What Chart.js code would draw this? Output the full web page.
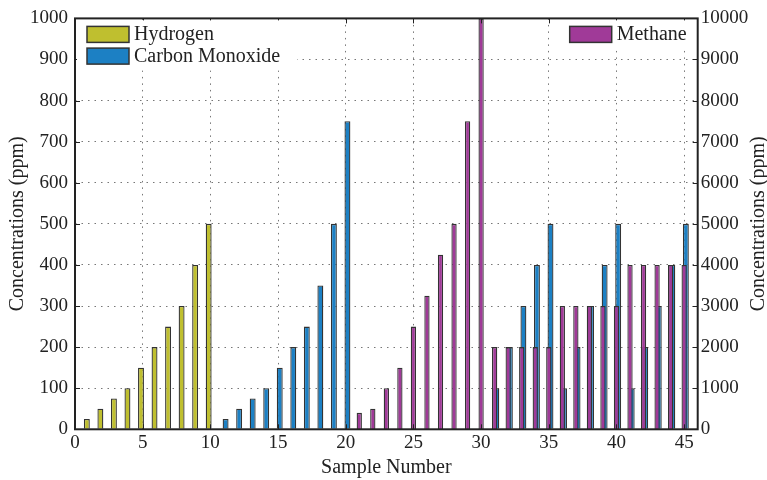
<!DOCTYPE html>
<html lang="en">
<head>
<meta charset="UTF-8">
<title>Concentrations by sample</title>
<script src="https://cdn.jsdelivr.net/npm/chart.js@4.4.0/dist/chart.umd.min.js"></script>
<style>
  body { margin: 0; background: #fff; }
  #wrap { width: 767px; height: 480px; }
</style>
</head>
<body>
<div id="wrap"><canvas id="chart" width="767" height="480"></canvas></div>
<script>
// samples 1..45
const samples = [1, 2, 3, 4, 5, 6, 7, 8, 9, 10,
                 11, 12, 13, 14, 15, 16, 17, 18, 19, 20,
                 21, 22, 23, 24, 25, 26, 27, 28, 29, 30,
                 31, 32, 33, 34, 35, 36, 37, 38, 39, 40,
                 41, 42, 43, 44, 45];

// left axis (ppm)
const hydrogen = [25, 50, 75, 100, 150, 200, 250, 300, 400, 500,
                  null, null, null, null, null, null, null, null, null, null,
                  null, null, null, null, null, null, null, null, null, null,
                  null, null, null, null, null, null, null, null, null, null,
                  null, null, null, null, null];
const carbonMonoxide = [null, null, null, null, null, null, null, null, null, null,
                        25, 50, 75, 100, 150, 200, 250, 350, 500, 750,
                        null, null, null, null, null, null, null, null, null, null,
                        100, 200, 300, 400, 500, 100, 200, 300, 400, 500,
                        100, 200, 300, 400, 500];
// right axis (ppm)
const methane = [null, null, null, null, null, null, null, null, null, null,
                 null, null, null, null, null, null, null, null, null, null,
                 400, 500, 1000, 1500, 2500, 3250, 4250, 5000, 7500, 10000,
                 2000, 2000, 2000, 2000, 2000, 3000, 3000, 3000, 3000, 3000,
                 4000, 4000, 4000, 4000, 4000];

const xTicks = [0, 5, 10, 15, 20, 25, 30, 35, 40, 45];
const leftTicks = [0, 100, 200, 300, 400, 500, 600, 700, 800, 900, 1000];
const rightTicks = [0, 1000, 2000, 3000, 4000, 5000, 6000, 7000, 8000, 9000, 10000];

const seriesNames = ['Hydrogen', 'Carbon Monoxide', 'Methane'];
const colors = ['#bfbf2f', '#1c80c4', '#a03a98'];
const edge = '#333';

const FONT = "'Liberation Serif', 'DejaVu Serif', serif";
Chart.defaults.font.family = FONT;
Chart.defaults.color = '#222';

function pts(values) {
    return samples.map((s, i) => ({ x: s, y: values[i] }));
}

const plain = v => String(v);

// box, inward ticks, legends, right title
const framePlugin = {
    id: 'frame',
    afterDatasetsDraw(chart) {
        const { ctx, chartArea: a, scales } = chart;
        ctx.save();
        ctx.strokeStyle = '#222';
        ctx.lineWidth = 1;
        ctx.beginPath();
        scales.x.ticks.forEach(t => {
            const px = Math.round(scales.x.getPixelForValue(t.value)) + 0.5;
            ctx.moveTo(px, a.bottom); ctx.lineTo(px, a.bottom - 5);
            ctx.moveTo(px, a.top); ctx.lineTo(px, a.top + 5);
        });
        scales.y.ticks.forEach(t => {
            const py = Math.round(scales.y.getPixelForValue(t.value)) + 0.5;
            ctx.moveTo(a.left, py); ctx.lineTo(a.left + 5, py);
        });
        scales.y1.ticks.forEach(t => {
            const py = Math.round(scales.y1.getPixelForValue(t.value)) + 0.5;
            ctx.moveTo(a.right, py); ctx.lineTo(a.right - 5, py);
        });
        ctx.stroke();
        ctx.lineWidth = 2;
        ctx.strokeRect(a.left, a.top, a.right - a.left, a.bottom - a.top);
        ctx.restore();
    },
    afterDraw(chart) {
        const { ctx, chartArea: a } = chart;
        ctx.save();
        ctx.fillStyle = '#fff';
        ctx.fillRect(a.left + 2, a.top + 2, 220, 50);
        ctx.fillRect(a.right - 132, a.top + 2, 130, 30);
        ctx.font = '20px ' + FONT;
        ctx.textBaseline = 'middle';
        ctx.textAlign = 'left';
        const items = [
            { i: 0, x: a.left + 12, y: a.top + 8 },
            { i: 1, x: a.left + 12, y: a.top + 29.7 },
            { i: 2, x: a.right - 128, y: a.top + 8 }
        ];
        items.forEach(it => {
            ctx.fillStyle = colors[it.i];
            ctx.fillRect(it.x, it.y, 42, 16);
            ctx.strokeStyle = edge;
            ctx.lineWidth = 1.5;
            ctx.strokeRect(it.x, it.y, 42, 16);
            ctx.fillStyle = '#222';
            ctx.fillText(seriesNames[it.i], it.x + 47, it.y + 8.5);
        });
        ctx.translate(759, (a.top + a.bottom) / 2);
        ctx.rotate(-Math.PI / 2);
        ctx.textAlign = 'center';
        ctx.fillText('Concentrations (ppm)', 0, 0);
        ctx.restore();
    }
};

new Chart(document.getElementById('chart'), {
    type: 'bar',
    data: {
        datasets: [
            {
                label: seriesNames[2],
                data: pts(methane),
                yAxisID: 'y1',
                grouped: false,
                backgroundColor: colors[2],
                borderColor: edge,
                borderWidth: 1.3,
                categoryPercentage: 1,
                barPercentage: 0.39
            },
            {
                label: seriesNames[0],
                data: pts(hydrogen),
                yAxisID: 'y',
                backgroundColor: colors[0],
                borderColor: edge,
                borderWidth: 1.3,
                categoryPercentage: 0.5,
                barPercentage: 1.75
            },
            {
                label: seriesNames[1],
                data: pts(carbonMonoxide),
                yAxisID: 'y',
                backgroundColor: colors[1],
                borderColor: edge,
                borderWidth: 1.3,
                categoryPercentage: 0.5,
                barPercentage: 1.75
            }
        ]
    },
    options: {
        responsive: false,
        animation: false,
        layout: { padding: { top: 16, left: 0, right: 0, bottom: 0 } },
        plugins: {
            legend: { display: false },
            tooltip: { enabled: false }
        },
        scales: {
            x: {
                type: 'linear',
                min: 0,
                max: 46,
                offset: false,
                stacked: false,
                afterBuildTicks: s => { s.ticks = xTicks.map(v => ({ value: v })); },
                afterFit: s => { s.height = 50.7; },
                grid: { color: '#777', lineWidth: 1, drawTicks: false, offset: false },
                border: { display: false, dash: [1.5, 5] },
                ticks: { font: { size: 19 }, padding: 2, maxRotation: 0, callback: plain },
                title: { display: true, text: 'Sample Number', font: { size: 20 }, padding: { top: 0, bottom: 0 } }
            },
            y: {
                position: 'left',
                min: 0,
                max: 1000,
                afterBuildTicks: s => { s.ticks = leftTicks.map(v => ({ value: v })); },
                afterFit: s => { s.width = 75; },
                grid: { color: '#777', lineWidth: 1, drawTicks: false },
                border: { display: false, dash: [1.5, 5] },
                ticks: { font: { size: 19 }, padding: 7, callback: plain },
                title: { display: true, text: 'Concentrations (ppm)', font: { size: 20 }, padding: { top: 6, bottom: 0 } }
            },
            y1: {
                position: 'right',
                min: 0,
                max: 10000,
                afterBuildTicks: s => { s.ticks = rightTicks.map(v => ({ value: v })); },
                afterFit: s => { s.width = 69.3; },
                grid: { display: false, drawTicks: false },
                border: { display: false },
                ticks: { font: { size: 19 }, padding: 3, callback: plain }
            }
        }
    },
    plugins: [framePlugin]
});
</script>
</body>
</html>
